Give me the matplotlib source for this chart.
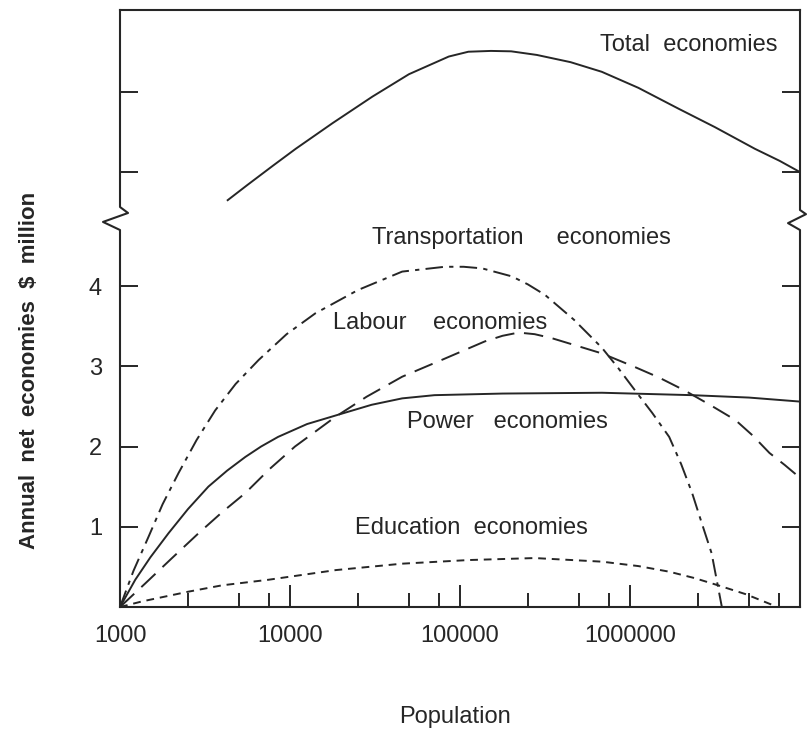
import matplotlib.pyplot as plt
from matplotlib.ticker import FixedLocator, NullFormatter

plt.rcParams['font.family'] = ['Liberation Sans', 'DejaVu Sans']

# values: population vs annual net economies ($ million)
# the upper (broken) part of the axis has no numbers, total is in the same plot units
total_pop = [4300, 5620, 7940, 10800, 17800, 30500, 50100, 85900, 112000, 152000,
             200000, 283000, 447000, 682000, 1120000, 1930000, 3160000, 5430000,
             7590000, 10000000]
total_val = [5.07, 5.26, 5.50, 5.71, 6.03, 6.36, 6.64, 6.86, 6.92, 6.93,
             6.925, 6.88, 6.79, 6.67, 6.47, 6.21, 5.98, 5.71,
             5.56, 5.42]

transport_pop = [1000, 1200, 1475, 1780, 2210, 2820, 3630, 4790, 6550, 9550,
                 14100, 25100, 45700, 81300, 105000, 135000, 202000, 251000, 316000, 468000,
                 684000, 851000, 1070000, 1350000, 1700000, 2000000, 2320000, 2630000,
                 3020000, 3470000]
transport_val = [0, 0.45, 0.88, 1.28, 1.67, 2.08, 2.45, 2.78, 3.08, 3.40,
                 3.66, 3.95, 4.18, 4.24, 4.24, 4.22, 4.12, 4.02, 3.89, 3.58,
                 3.23, 2.98, 2.70, 2.42, 2.12, 1.78, 1.42, 1.06,
                 0.67, 0]

labour_pop = [1000, 1410, 2000, 2900, 3980, 5460, 7590, 10700, 18500, 28200,
              45700, 78300, 140000, 178000, 221000, 275000, 347000, 479000, 684000,
              1070000, 1480000, 2090000, 2950000, 4170000, 5250000, 6610000, 8130000,
              10000000]
labour_val = [0, 0.295, 0.6, 0.92, 1.18, 1.42, 1.72, 2.0, 2.37, 2.62,
              2.87, 3.08, 3.31, 3.38, 3.42, 3.40, 3.35, 3.26, 3.16,
              2.99, 2.86, 2.70, 2.52, 2.33, 2.14, 1.92, 1.77,
              1.61]

power_pop = [1000, 1230, 1510, 1930, 2510, 3310, 4270, 5460, 6760, 8510,
             12600, 20200, 30200, 45700, 70800, 178000, 684000, 2320000, 5010000,
             10000000]
power_val = [0, 0.34, 0.62, 0.92, 1.22, 1.50, 1.70, 1.87, 2.0, 2.12,
             2.28, 2.41, 2.52, 2.60, 2.64, 2.66, 2.67, 2.64, 2.61,
             2.56]

education_pop = [1000, 1350, 2510, 3980, 7500, 18600, 45700, 112000, 275000, 684000,
                 1120000, 1700000, 2400000, 3300000, 4790000, 6800000]
education_val = [0, 0.07, 0.19, 0.27, 0.34, 0.46, 0.54, 0.585, 0.61, 0.565,
                 0.51, 0.44, 0.36, 0.27, 0.16, 0.03]

x_major = [1000, 10000, 100000, 1000000]
x_major_labels = ["1000", "10000", "100000", "1000000"]
x_minor = [2500, 5000, 7500, 25000, 50000, 75000, 250000, 500000, 750000,
           2500000, 5000000, 7500000]
y_ticks = [1, 2, 3, 4]
y_upper_ticks = [5.42, 6.42]

INK = "#262626"
FS = 17

fig = plt.figure(figsize=(8.12, 7.33), dpi=100)
ax = fig.add_axes([120 / 812, 1 - 607 / 733, 680 / 812, 597 / 733])
ax.set_xscale("log")
ax.set_xlim(1000, 10000000)
ax.set_ylim(0, 7.44)

lw = 1.4
style = dict(color=INK, lw=lw, solid_joinstyle="round", dash_joinstyle="round")
ax.plot(total_pop, total_val, **style)
ax.plot(power_pop, power_val, **style)
ax.plot(labour_pop, labour_val, dashes=(10, 5), **style)
ax.plot(transport_pop, transport_val, dashes=(9, 3.2, 2.2, 3.2), **style)
ax.plot(education_pop, education_val, dashes=(4, 3), **style)

# curve labels
ax.text(667000, 7.0, "Total  economies", fontsize=FS, color=INK, va="center")
ax.text(30300, 4.60, "Transportation     economies", fontsize=FS, color=INK, va="center")
ax.text(17900, 3.54, "Labour    economies", fontsize=FS, color=INK, va="center")
ax.text(48800, 2.305, "Power   economies", fontsize=FS, color=INK, va="center")
ax.text(24100, 0.985, "Education  economies", fontsize=FS, color=INK, va="center")

# axes: ticks inside, broken left/right spine
for side in ["left", "right"]:
    ax.spines[side].set_visible(False)
for side in ["top", "bottom"]:
    ax.spines[side].set_linewidth(1.5)
    ax.spines[side].set_color(INK)

ax.xaxis.set_major_locator(FixedLocator(x_major))
ax.xaxis.set_minor_locator(FixedLocator(x_minor))
ax.set_xticklabels(x_major_labels)
ax.xaxis.set_minor_formatter(NullFormatter())
ax.tick_params(axis="x", which="major", direction="in", length=16, width=1.4,
               color=INK, labelsize=FS, labelcolor=INK, pad=13, top=False)
ax.tick_params(axis="x", which="minor", direction="in", length=10, width=1.4,
               color=INK, top=False)

ax.set_yticks(y_ticks + y_upper_ticks)
ax.set_yticklabels([str(v) for v in y_ticks] + ["", ""])
ax.tick_params(axis="y", which="major", direction="in", length=13, width=1.4,
               color=INK, labelsize=FS, labelcolor=INK, pad=13, right=True)
ax.tick_params(axis="y", which="minor", left=False, right=False)

# broken spines with zigzag (axes fraction)
left_x = [0, 0, 0.0118, -0.025, 0, 0]
left_y = [1, 0.670, 0.660, 0.645, 0.6315, 0]
right_x = [1, 1, 1.0088, 0.9824, 1, 1]
right_y = [1, 0.665, 0.658, 0.643, 0.6315, 0]
ax.plot(left_x, left_y, color=INK, lw=1.5, transform=ax.transAxes, clip_on=False)
ax.plot(right_x, right_y, color=INK, lw=1.5, transform=ax.transAxes, clip_on=False)

ax.set_xlabel("Population", fontsize=FS, color=INK, va="center")
ax.xaxis.set_label_coords(0.4926, -0.184)
ax.set_ylabel("Annual  net  economies  $  million", fontsize=16, color=INK,
              fontweight="bold")
ax.yaxis.set_label_coords(-0.117, 0.397)

fig.savefig("out.png", dpi=100)
